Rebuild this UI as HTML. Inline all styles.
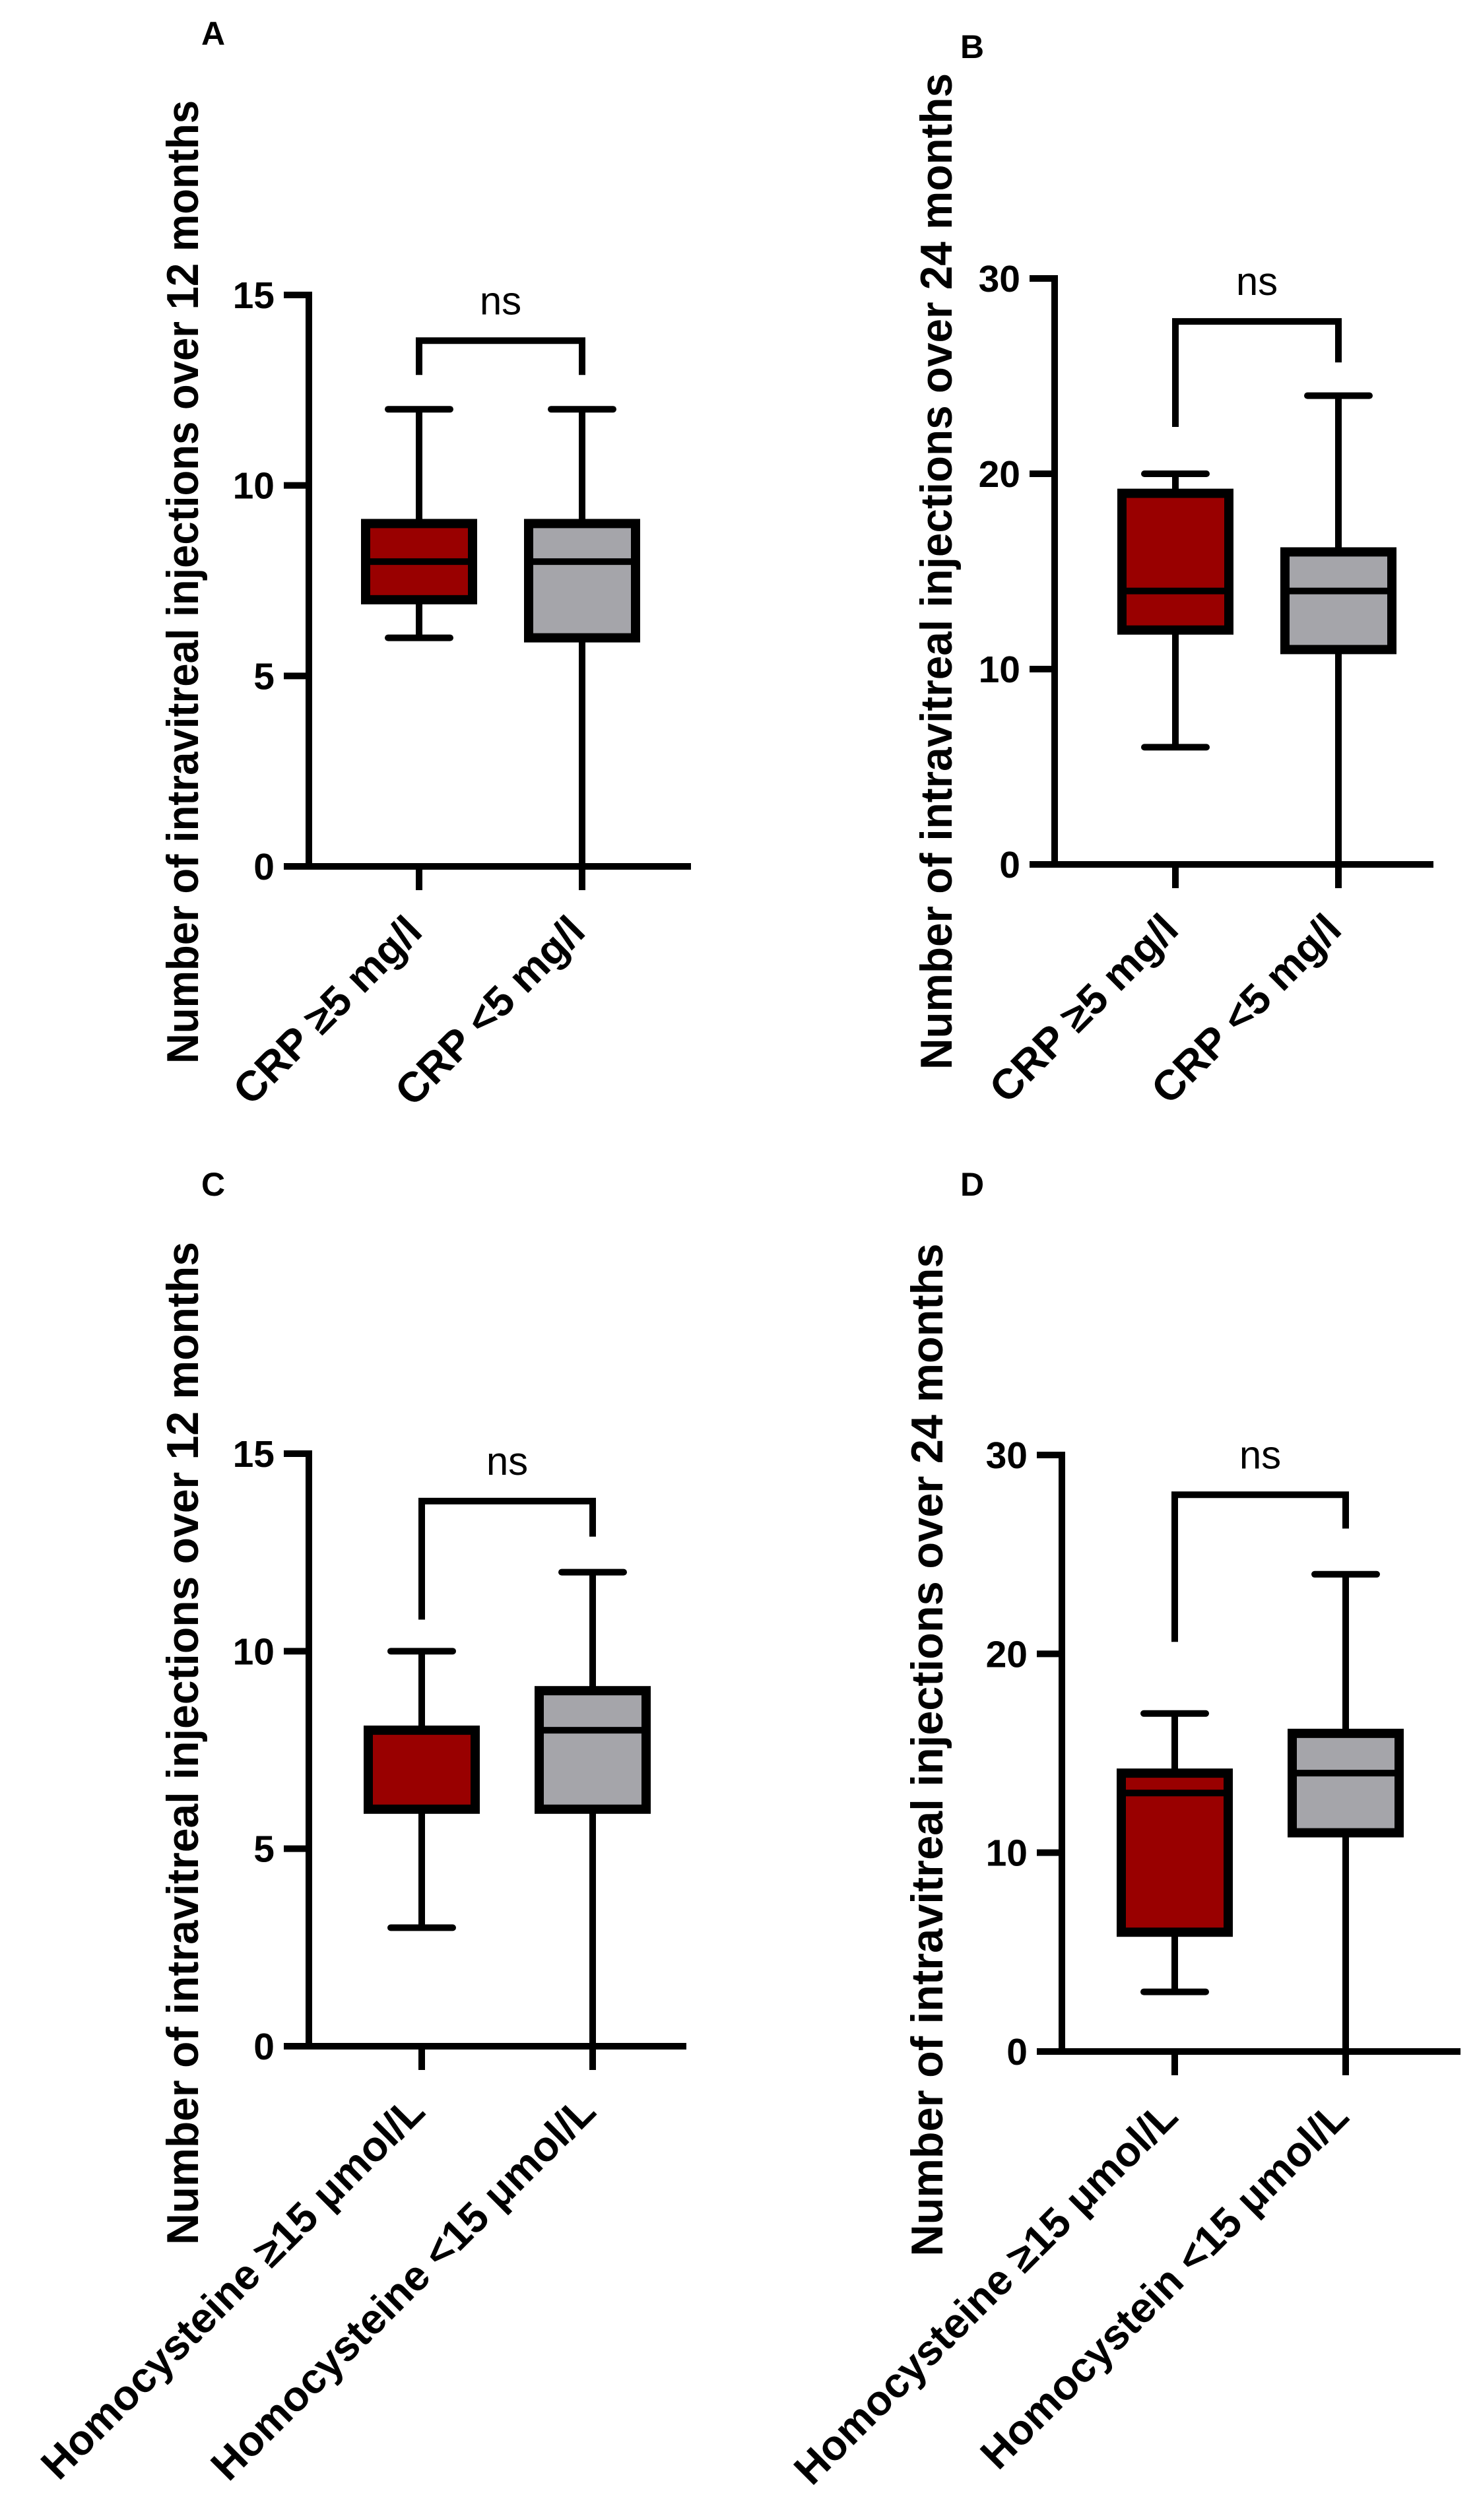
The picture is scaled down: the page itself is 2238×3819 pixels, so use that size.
<!DOCTYPE html>
<html><head><meta charset="utf-8"><style>
html,body{margin:0;padding:0;background:#fff}
svg{display:block}
text{font-family:"Liberation Sans",sans-serif;fill:#000}
</style></head><body>
<svg id="chart" width="2238" height="3819" viewBox="0 0 2238 3819" xmlns="http://www.w3.org/2000/svg"></svg>
<script>
// Panel data: [min, q1, median, q3, max]
const categoriesA = ["CRP ≥5 mg/l", "CRP <5 mg/l"];
const boxesA = [[6, 7, 8, 9, 12], [0, 6, 8, 9, 12]];
const bracketA = [13.8, 12.9, 12.9];
const ticksA = [0, 5, 10, 15];

const categoriesB = ["CRP ≥5 mg/l", "CRP <5 mg/l"];
const boxesB = [[6, 12, 14, 19, 20], [0, 11, 14, 16, 24]];
const bracketB = [27.8, 22.4, 25.7];
const ticksB = [0, 10, 20, 30];

const categoriesC = ["Homocysteine ≥15 μmol/L", "Homocysteine <15 μmol/L"];
const boxesC = [[3, 6, 8, 8, 10], [0, 6, 8, 9, 12]];
const bracketC = [13.8, 10.8, 12.9];
const ticksC = [0, 5, 10, 15];

const categoriesD = ["Homocysteine ≥15 μmol/L", "Homocystein <15 μmol/L"];
const boxesD = [[3, 6, 13, 14, 17], [0, 11, 14, 16, 24]];
const bracketD = [28.0, 20.6, 26.3];
const ticksD = [0, 10, 20, 30];

const colors = ["#990000", "#a5a5aa"];
const NS = "http://www.w3.org/2000/svg";
const svg = document.getElementById("chart");

function mk(tag, attrs, parent, txt) {
  const e = document.createElementNS(NS, tag);
  for (const k in attrs) e.setAttribute(k, attrs[k]);
  if (txt !== undefined) e.textContent = txt;
  parent.appendChild(e);
  return e;
}

function panel(cfg) {
  const g = mk("g", {}, svg);
  
  
  const ymax = cfg.ticks[cfg.ticks.length - 1];
  const y = v => cfg.y0 - (cfg.y0 - cfg.yTop) * v / ymax;
  const lw = 10;
  const lab = mk("text", {x: cfg.lx, y: cfg.ly, "font-size": 50, "font-weight": "bold"}, g, cfg.id);
  
  
  const tt = mk("text", {x: 0, y: 0, "font-size": 68, "font-weight": "bold", "text-anchor": "middle",
    textLength: cfg.titleLen, lengthAdjust: "spacingAndGlyphs",
    transform: `translate(${cfg.tx},${cfg.ty}) rotate(-90)`}, g, cfg.title);
  
  
  const ya = mk("line", {x1: cfg.ax, y1: y(ymax) - lw / 2, x2: cfg.ax, y2: cfg.y0 + lw / 2, stroke: "#000", "stroke-width": lw}, g);
  
  
  cfg.ticks.forEach(t => {
    const tk = mk("line", {x1: cfg.ax - 38, y1: y(t), x2: cfg.ax, y2: y(t), stroke: "#000", "stroke-width": lw}, g);
    
    
    const tl = mk("text", {x: cfg.ax - 52, y: y(t) + 20, "font-size": 57, "font-weight": "bold", "text-anchor": "end"}, g, String(t));
    
    
  });
  const xa = mk("line", {x1: cfg.ax - 38, y1: cfg.y0, x2: cfg.xEnd, y2: cfg.y0, stroke: "#000", "stroke-width": lw}, g);
  
  
  cfg.boxes.forEach((b, i) => {
    const cx = cfg.cx[i];
    const hw = 81, cw = 47;
    const xt = mk("line", {x1: cx, y1: cfg.y0, x2: cx, y2: cfg.y0 + 36, stroke: "#000", "stroke-width": lw}, g);
    
    
    const bg = mk("g", {}, g);
    
    
    mk("line", {x1: cx, y1: y(b[0]), x2: cx, y2: y(b[4]), stroke: "#000", "stroke-width": lw}, bg);
    mk("line", {x1: cx - cw, y1: y(b[4]), x2: cx + cw, y2: y(b[4]), stroke: "#000", "stroke-width": lw, "stroke-linecap": "round"}, bg);
    mk("line", {x1: cx - cw, y1: y(b[0]), x2: cx + cw, y2: y(b[0]), stroke: "#000", "stroke-width": lw, "stroke-linecap": "round"}, bg);
    mk("rect", {x: cx - hw, y: y(b[3]), width: 2 * hw, height: y(b[1]) - y(b[3]), fill: colors[i], stroke: "#000", "stroke-width": lw + 4}, bg);
    mk("line", {x1: cx - hw, y1: y(b[2]), x2: cx + hw, y2: y(b[2]), stroke: "#000", "stroke-width": lw}, bg);
    const xl = mk("text", {x: 0, y: 0, "font-size": 64, "font-weight": "bold", "text-anchor": "end",
      transform: `translate(${cx + 8},${cfg.y0 + 102}) rotate(-45)`}, g, cfg.cats[i]);
    
    
  });
  const br = cfg.bracket;
  const p = mk("path", {d: `M${cfg.cx[0]},${y(br[1])} V${y(br[0])} H${cfg.cx[1]} V${y(br[2])}`, fill: "none", stroke: "#000", "stroke-width": lw}, g);
  
  
  const ns = mk("text", {x: (cfg.cx[0] + cfg.cx[1]) / 2, y: y(br[0]) - 40, "font-size": 60, "text-anchor": "middle"}, g, "ns");
  
  
}

panel({id: "A", lx: 305, ly: 68, tx: 300, ty: 882, titleLen: 1460, title: "Number of intravitreal injections over 12 months",
  ax: 468, y0: 1313, yTop: 447, xEnd: 1047, cx: [635, 882], boxes: boxesA, cats: categoriesA, bracket: bracketA, ticks: ticksA});
panel({id: "B", lx: 1455, ly: 88, tx: 1442, ty: 866, titleLen: 1510, title: "Number of intravitreal injections over 24 months",
  ax: 1598, y0: 1310, yTop: 422, xEnd: 2172, cx: [1781, 2028], boxes: boxesB, cats: categoriesB, bracket: bracketB, ticks: ticksB});
panel({id: "C", lx: 305, ly: 1812, tx: 300, ty: 2642, titleLen: 1520, title: "Number of intravitreal injections over 12 months",
  ax: 468, y0: 3101, yTop: 2203, xEnd: 1040, cx: [639, 898], boxes: boxesC, cats: categoriesC, bracket: bracketC, ticks: ticksC});
panel({id: "D", lx: 1455, ly: 1812, tx: 1428, ty: 2652, titleLen: 1535, title: "Number of intravitreal injections over 24 months",
  ax: 1609, y0: 3109, yTop: 2205, xEnd: 2213, cx: [1780, 2039], boxes: boxesD, cats: categoriesD, bracket: bracketD, ticks: ticksD});
</script>
</body></html>
